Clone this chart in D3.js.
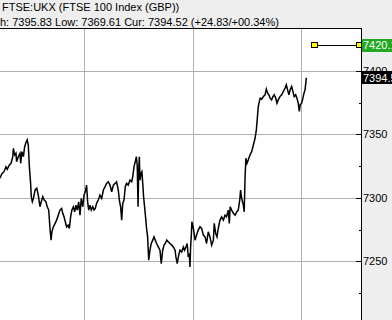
<!DOCTYPE html>
<html><head><meta charset="utf-8">
<script src="https://cdn.jsdelivr.net/npm/d3@7"></script>
<style>html,body{margin:0;padding:0;background:#eeeeee;overflow:hidden}svg{display:block}</style>
</head><body><svg id="c" width="392" height="320"></svg>
<script>
const titleText = "FTSE:UKX (FTSE 100 Index (GBP))";
const statsText = "High: 7395.83 Low: 7369.61 Cur: 7394.52 (+24.83/+00.34%)";
const yTicks = [7250, 7300, 7350, 7400];
const yMinorTicks = [7225, 7275, 7325, 7375];
const sessionBreaks = [510, 1020, 1530];          // minutes
const alertLevel = 7420.1, alertLabel = "7420.1";
const alertSpan = [1591, 1802];
const currentValue = 7394.52, currentLabel = "7394.5";

const t1 = [115,123,134,143,149,159,167,175,178,184,190,193,201,209,212,218,225,231,237,243,248,253,259,262,267,272,280,288,295,303,309,316,323,331,337,344,350,355,359,366,374,381,389,397,405,410,416,422,428,435,441,447,453,460,466,472,478,485,491,497,504,510,516,522,527,532,538,544,551,557,563,569,577,585];
const p1 = [7315.4,7318.8,7320.6,7324.5,7322.5,7325.9,7327.2,7332.4,7339,7333.8,7335.1,7328.5,7332.4,7335.1,7327.2,7336.4,7332.4,7340.3,7343.5,7345.6,7341.6,7324.5,7311.4,7300.9,7296.9,7299.6,7306.2,7307.5,7302.2,7293,7296.9,7300.9,7298.3,7296.9,7293,7290.4,7275.9,7266.7,7273.3,7277.2,7279.9,7282.5,7286.4,7290.4,7291.7,7287.8,7285.1,7281.2,7277.2,7278.5,7275.9,7285.1,7290.4,7293,7289,7294.3,7290.4,7296.9,7286.4,7299.6,7293,7302.2,7304.8,7310.1,7296.9,7290.4,7294.3,7290.4,7293,7290.4,7291.7,7295.7,7298.3,7302.2];
const t2 = [593,601,609,616,624,632,640,648,656,663,671,676,682,687,692,698,704,710,718,726,734,739,745,751,756,760,764,767,770,773,778,782,786,790,797,804,809,814,820,826,833,839,845,851,859,867,873,880,886,892,899,906,914,922,930,938,942,948,955,961,969,977,983,989,995,1000,1005,1008,1011,1014,1017,1024];
const p2 = [7299.6,7306.2,7308.8,7311.4,7312.7,7310.1,7304.8,7310.1,7311.4,7312.7,7306.2,7298.3,7293,7282.5,7295.7,7298.3,7308.8,7311.4,7310.1,7314,7312.7,7316.6,7324.5,7328.5,7332.4,7325.9,7293,7321.9,7332.4,7314,7319.3,7320.6,7311.4,7300.9,7289,7275.9,7269.3,7250.9,7258.8,7264.1,7266.7,7269.3,7266.7,7264.1,7261.4,7258.8,7248.3,7258.8,7262.8,7264.1,7266.7,7265.4,7264.1,7262.8,7261.4,7258.8,7253.5,7248.3,7254.9,7258.8,7257.5,7261.4,7258.8,7261.4,7264.1,7253.5,7256.2,7245.7,7261.4,7269.3,7281.2,7275.9];
const t3 = [1032,1039,1047,1055,1063,1071,1079,1086,1094,1102,1110,1118,1122,1129,1135,1141,1149,1157,1165,1173,1180,1188,1193,1197,1204,1212,1220,1228,1235,1242,1246,1251,1259,1263,1267,1271,1276,1282,1290,1298,1306,1314,1320,1324,1329,1334,1338,1345,1353,1361,1367,1373,1379,1385,1392,1398,1404,1411,1417,1423,1431,1439,1447,1455,1461,1467,1473,1479,1486,1492,1498,1505,1511,1517,1522,1526,1533,1539,1544,1549,1555];
const p3 = [7266.7,7270.7,7274.6,7277.2,7275.9,7270.7,7269.3,7264.1,7273.3,7269.3,7262.8,7266.7,7279.9,7272,7269.3,7275.9,7282.5,7285.1,7282.5,7286.4,7285.1,7290.4,7279.9,7293,7290.4,7287.8,7286.4,7289,7290.4,7298.3,7306.2,7299.6,7294.3,7289,7316.6,7331.2,7327.2,7329.8,7333.8,7336.4,7341.6,7346.9,7353.5,7361.4,7371.8,7375.8,7378.5,7377.7,7379.7,7381.1,7385.6,7382.4,7381.1,7378.5,7377.1,7379.7,7381.1,7378.5,7374.5,7377.1,7379.7,7381.1,7383.7,7386.4,7389,7385,7381.1,7385,7387.6,7383.7,7379.7,7381.1,7378.5,7374.5,7368,7373.2,7374.5,7378.5,7382.4,7385,7394.52];

const times = t1.concat(t2, t3);
const prices = p1.concat(p2, p3);
const data = times.map((t, i) => ({t, v: prices[i]}));

const W = 392, H = 320;
const plotL = 0, plotR = 361, plotT = 28, plotB = 320;
const font = "'Liberation Sans', Arial, sans-serif";

const svg = d3.select("#c");
const x = d3.scaleLinear().domain([115, 1812]).range([plotL, plotR]);
const y = d3.scaleLinear().domain([7250, 7400]).range([261.4, 70.8]);

svg.append("rect").attr("width", W).attr("height", H).attr("fill", "#eeeeee");
svg.append("rect").attr("x", plotL).attr("y", plotT).attr("width", plotR - plotL).attr("height", plotB - plotT).attr("fill", "#ffffff");

svg.append("defs").append("clipPath").attr("id", "clip")
  .append("rect").attr("x", plotL).attr("y", plotT).attr("width", plotR - plotL).attr("height", plotB - plotT);

// grid
const g = svg.append("g");
g.selectAll(".hg").data(yTicks).join("line")
  .attr("x1", plotL).attr("x2", plotR - 5)
  .attr("y1", d => Math.round(y(d)) + 0.5).attr("y2", d => Math.round(y(d)) + 0.5)
  .attr("stroke", "#b0b0b0").attr("stroke-width", 1);
g.selectAll(".vg").data(sessionBreaks).join("line")
  .attr("x1", d => Math.round(x(d)) + 0.5).attr("x2", d => Math.round(x(d)) + 0.5)
  .attr("y1", plotT).attr("y2", plotB)
  .attr("stroke", "#b0b0b0").attr("stroke-width", 1);

// price line
svg.append("path").datum(data)
  .attr("clip-path", "url(#clip)")
  .attr("fill", "none").attr("stroke", "#000").attr("stroke-width", 1.5)
  .attr("stroke-linejoin", "miter")
  .attr("d", d3.line().x(d => x(d.t)).y(d => y(d.v)));

// alert line
const ay = Math.round(y(alertLevel)) + 0.5;
svg.append("line").attr("x1", x(alertSpan[0])).attr("x2", x(alertSpan[1]))
  .attr("y1", ay).attr("y2", ay).attr("stroke", "#000").attr("stroke-width", 1);
svg.selectAll(".ah").data(alertSpan).join("rect")
  .attr("x", d => Math.round(x(d)) - 3 + 0.5).attr("y", ay - 3)
  .attr("width", 6).attr("height", 5)
  .attr("fill", "#ffff00").attr("stroke", "#000").attr("stroke-width", 1);

// right axis
const ax = svg.append("g");
ax.append("rect").attr("x", plotR + 0.5).attr("y", plotT).attr("width", W - plotR).attr("height", H - plotT).attr("fill", "#eeeeee");
ax.selectAll(".mt").data(yTicks).join("line")
  .attr("x1", plotR - 5).attr("x2", plotR)
  .attr("y1", d => Math.round(y(d)) + 0.5).attr("y2", d => Math.round(y(d)) + 0.5)
  .attr("stroke", "#000");
ax.selectAll(".nt").data(yMinorTicks).join("line")
  .attr("x1", plotR - 2).attr("x2", plotR)
  .attr("y1", d => Math.round(y(d)) + 0.5).attr("y2", d => Math.round(y(d)) + 0.5)
  .attr("stroke", "#000");
ax.selectAll(".tl").data(yTicks).join("text")
  .attr("x", plotR + 2).attr("y", d => y(d)).attr("dy", "0.36em")
  .attr("font-family", font).attr("font-size", 11).attr("fill", "#000")
  .text(d => d);
svg.append("line").attr("x1", plotL).attr("x2", plotR + 1).attr("y1", plotT + 0.5).attr("y2", plotT + 0.5).attr("stroke", "#000");
svg.append("line").attr("x1", plotR + 0.5).attr("x2", plotR + 0.5).attr("y1", plotT).attr("y2", plotB).attr("stroke", "#000");

// value badges
function badge(v, label, fill) {
  const cy = y(v);
  svg.append("rect").attr("x", plotR + 1).attr("y", Math.round(cy - 6.5)).attr("width", W - plotR).attr("height", 13).attr("fill", fill);
  svg.append("text").attr("x", plotR + 2).attr("y", cy).attr("dy", "0.36em")
    .attr("font-family", font).attr("font-size", 11).attr("fill", "#fff").text(label);
}
badge(alertLevel, alertLabel, "#22a822");
badge(currentValue, currentLabel, "#000000");

// header
svg.append("text").attr("x", 2).attr("y", 11).attr("font-family", font).attr("font-size", 11).attr("fill", "#000").text(titleText);
const st = svg.append("text").attr("y", 26).attr("font-family", font).attr("font-size", 11).attr("fill", "#000").text(statsText);
const off = st.node().getSubStringLength(0, 3);
st.attr("x", -off);
</script></body></html>
